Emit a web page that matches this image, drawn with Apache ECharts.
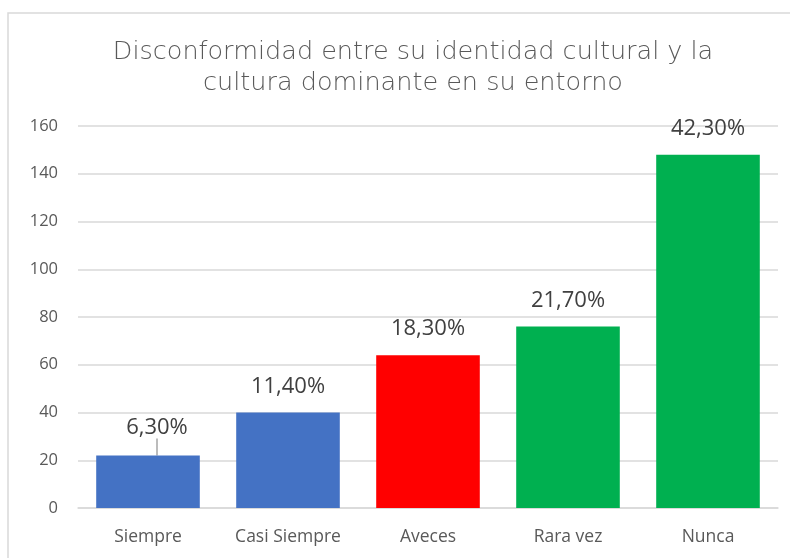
<!DOCTYPE html>
<html><head><meta charset="utf-8">
<script src="https://cdn.jsdelivr.net/npm/echarts@6/dist/echarts.min.js"></script>
<style>html,body{margin:0;padding:0;background:#fff}#c{width:790px;height:558px}</style>
</head><body><div id="c"></div>
<script>
const titleText = 'Disconformidad entre su identidad cultural y la\ncultura dominante en su entorno';
const categories = ['Siempre', 'Casi Siempre', 'Aveces', 'Rara vez', 'Nunca'];
const values = [22, 40, 64, 76, 148];
const percentLabels = ['6,30%', '11,40%', '18,30%', '21,70%', '42,30%'];
const barColors = ['#4472C4', '#4472C4', '#FF0000', '#00B050', '#00B050'];
const yTicks = [0, 20, 40, 60, 80, 100, 120, 140, 160];

const chart = echarts.init(document.getElementById('c'));
chart.setOption({
  animation: false,
  graphic: [{type: 'rect', shape: {x: 8, y: 13, width: 800, height: 560}, style: {fill: 'none', stroke: '#d9d9d9', lineWidth: 1.5}}],
  title: {
    text: titleText, left: 408, textAlign: 'center', top: 32,
    textStyle: {fontFamily: 'DejaVu Sans', fontWeight: 200, fontSize: 25.5, color: '#595959', lineHeight: 31}
  },
  grid: {left: 78, right: 12, top: 126, bottom: 50},
  xAxis: {
    type: 'category', data: categories,
    axisLine: {lineStyle: {color: '#d9d9d9', width: 1.5}}, axisTick: {show: false},
    axisLabel: {color: '#595959', fontSize: 17.5, fontFamily: 'Open Sans', margin: 20}
  },
  yAxis: {
    type: 'value', min: yTicks[0], max: yTicks[yTicks.length - 1], interval: 20,
    axisLine: {show: false}, axisTick: {show: false},
    splitLine: {lineStyle: {color: '#d9d9d9', width: 1.5}},
    axisLabel: {color: '#595959', fontSize: 16.5, fontFamily: 'Open Sans', margin: 20}
  },
  series: [{
    type: 'bar', barWidth: '74%',
    data: values.map((v, i) => ({
      value: v, itemStyle: {color: barColors[i]},
      label: {formatter: percentLabels[i]},
      labelLine: i === 0 ? {show: true, lineStyle: {color: '#a6a6a6', width: 1.5}} : undefined
    })),
    label: {show: true, position: 'top', distance: 15, color: '#404040', fontSize: 22, fontFamily: 'Open Sans'},
    labelLayout: function (p) { return p.dataIndex === 0 ? {dy: -2, dx: 9} : {}; }
  }]
});
</script></body></html>
